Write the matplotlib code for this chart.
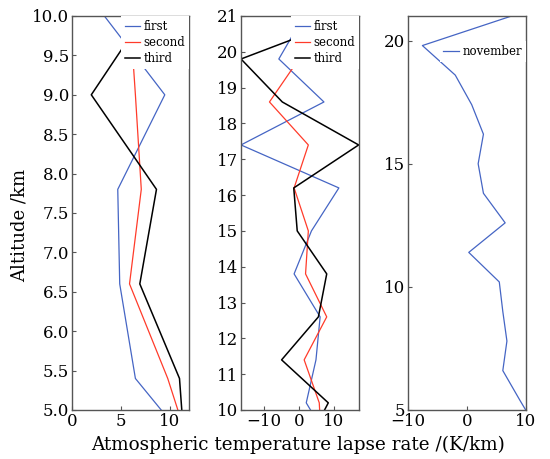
import matplotlib.pyplot as plt

# lapse-rate profiles, 1.2 km grid
altitude = [4.2, 5.4, 6.6, 7.8, 9.0, 10.2, 11.4, 12.6, 13.8, 15.0, 16.2, 17.4, 18.6, 19.8, 21.0]
first = [14.4, 6.5, 4.9, 4.7, 9.5, 2.1, 4.9, 6.1, -1.4, 3.6, 11.5, -16.7, 7.2, -5.8, 1.4]
second = [12.9, 9.8, 5.9, 7.1, 6.5, 5.85, 1.5, 8.0, 1.9, 2.7, -1.4, 2.7, -8.5, 0.0, 3.0]
third = [11.7, 11.0, 6.95, 8.65, 2.0, 8.45, -5.0, 5.6, 8.0, -0.5, -1.5, 17.2, -4.8, -16.7, 15.9]
november = [12.0, 9.0, 6.1, 6.8, 6.1, 5.5, 0.3, 6.5, 2.8, 1.9, 2.8, 0.8, -2.0, -7.6, 7.6]

blue = '#4565c4'
red = '#ff3b2a'

plt.rcParams['font.family'] = 'DejaVu Serif'
plt.rcParams['axes.edgecolor'] = '#555555'

fig = plt.figure(figsize=(5.5, 4.59), dpi=100)
W, H = 550, 459


def box(x0, x1):
    return [x0 / W, (H - 410) / H, (x1 - x0) / W, 394 / H]


ax1 = fig.add_axes(box(71.7, 189.3))
ax2 = fig.add_axes(box(241, 359))
ax3 = fig.add_axes(box(408.3, 525.7))

for ax in (ax1, ax2):
    ax.plot(first, altitude, color=blue, lw=0.9, label='first')
    ax.plot(second, altitude, color=red, lw=0.9, label='second')
    ax.plot(third, altitude, color='black', lw=1.1, label='third')
ax3.plot(november, altitude, color=blue, lw=0.9, label='november')

ax1.set_xlim(0, 12)
ax1.set_ylim(5, 10)
ax1.set_xticks([0, 5, 10])
ax1.set_yticks([5.0, 5.5, 6.0, 6.5, 7.0, 7.5, 8.0, 8.5, 9.0, 9.5, 10.0])
ax1.set_yticklabels(['%.1f' % v for v in ax1.get_yticks()])

ax2.set_xlim(-16.7, 17.3)
ax2.set_ylim(10, 21)
ax2.set_xticks([-10, 0, 10])
ax2.set_yticks(range(10, 22))

ax3.set_xlim(-10, 10)
ax3.set_ylim(5, 21)
ax3.set_xticks([-10, 0, 10])
ax3.set_yticks([5, 10, 15, 20])

for ax in (ax1, ax2, ax3):
    ax.tick_params(direction='in', length=3, width=0.8, labelsize=12, pad=2,
                   color='#555555')
    for s in ax.spines.values():
        s.set_linewidth(1.0)

leg_kw = dict(fontsize=8.5, handlelength=1.3, handletextpad=0.3,
              labelspacing=0.27, borderpad=0.32, borderaxespad=0,
              fancybox=False, facecolor='white', edgecolor='none', framealpha=1)
ax1.legend(loc='upper right', **leg_kw)
ax2.legend(loc='upper right', **leg_kw)
ax3.legend(loc='upper right', bbox_to_anchor=(1, 0.936), **leg_kw)

fig.text(20 / W, 1 - 225 / H, 'Altitude /km', rotation=90, ha='center',
         va='center', fontsize=13)
fig.text(298 / W, 1 - 445 / H, 'Atmospheric temperature lapse rate /(K/km)',
         ha='center', va='center', fontsize=13.2)

fig.savefig('out.png', dpi=100)
